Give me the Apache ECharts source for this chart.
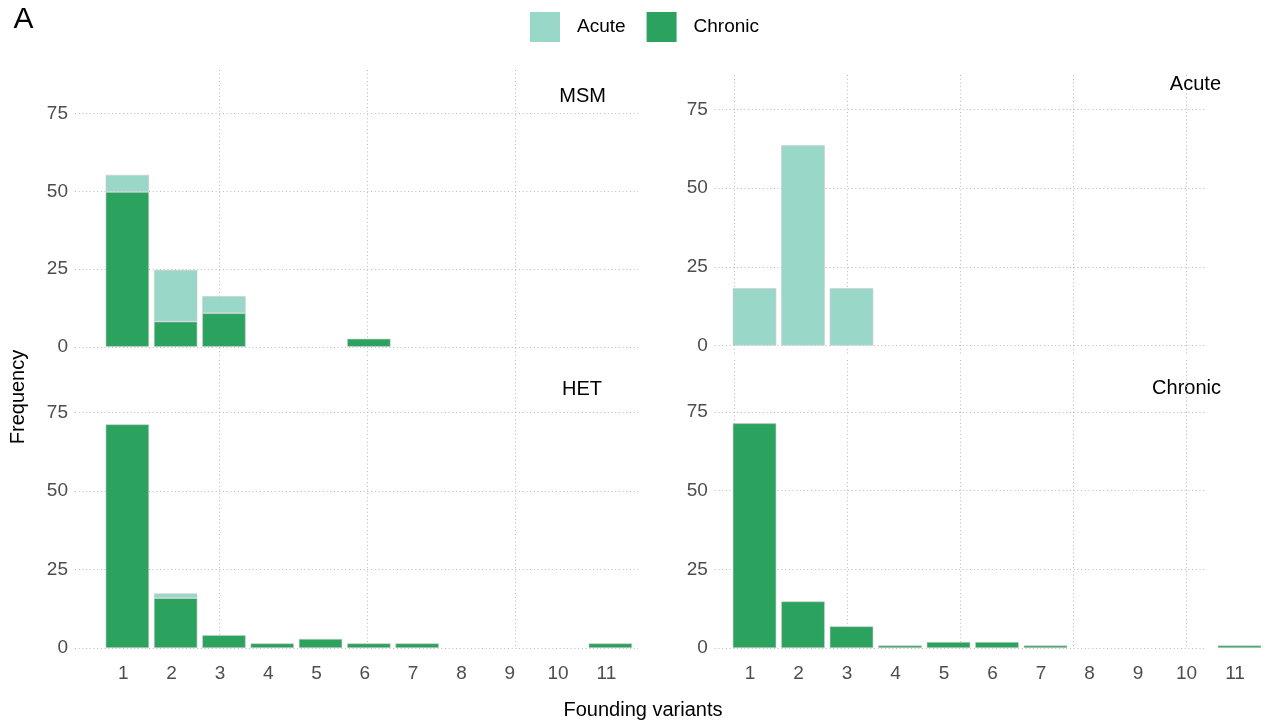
<!DOCTYPE html>
<html>
<head>
<meta charset="utf-8">
<script src="https://cdn.jsdelivr.net/npm/echarts@6/dist/echarts.min.js"></script>
<style>
  html, body { margin: 0; padding: 0; background: #ffffff; }
  #chart { width: 1264px; height: 728px; }
</style>
</head>
<body>
<div id="chart"></div>
<script>
// Number of founding variants (x categories)
const categories = ['1', '2', '3', '4', '5', '6', '7', '8', '9', '10', '11'];
const yTicks = [0, 25, 50, 75];

// Frequency (%) per number of founding variants, per risk group and infection stage
const msmChronic = [49.8, 8.1, 10.8, null, null, 2.6, null, null, null, null, null];
const msmAcute   = [5.5, 16.6, 5.5, null, null, null, null, null, null, null, null];
const hetChronic = [71.3, 15.9, 4.1, 1.5, 2.9, 1.5, 1.5, null, null, null, 1.5];
const hetAcute   = [null, 1.5, null, null, null, null, null, null, null, null, null];
const acuteAll   = [18.2, 63.6, 18.2, null, null, null, null, null, null, null, null];
const chronicAll = [71.4, 14.8, 6.9, 0.8, 1.9, 1.9, 0.8, null, null, null, 0.8];

// Vertical grid line positions (in x units) for the left and right columns
const leftBreaks  = [3, 6.07, 9.14];
const rightBreaks = [0.67, 3, 5.33, 7.67, 10];

const FONT = '"Liberation Sans", Arial, Helvetica, sans-serif';
const ACUTE = '#99d8c9';
const CHRONIC = '#2ca25f';
const gridLine = { color: '#b8b8b8', width: 1, type: [1, 2.7] };

const panels = [
  { title: 'MSM', titleX: 606, titleY: 96,
    top: 70, height: 288, yRange: [-3.6, 89.0],
    bg: { left: 75, width: 563 }, xRange: [0, 11.68], breaks: leftBreaks,
    bar: { left: 103.2, width: 531.3 }, labelShift: 8, showX: false,
    chronic: msmChronic, acute: msmAcute },
  { title: 'Acute', titleX: 1221, titleY: 84.5,
    top: 75, height: 281, yRange: [-3.3, 85.9],
    bg: { left: 714.8, width: 490.6 }, xRange: [0.275, 10.39], breaks: rightBreaks,
    bar: { left: 730.25, width: 533.5 }, labelShift: 9, showX: false,
    chronic: null, acute: acuteAll },
  { title: 'HET', titleX: 602, titleY: 389,
    top: 360, height: 288, yRange: [0, 91.8],
    bg: { left: 75, width: 563 }, xRange: [0, 11.68], breaks: leftBreaks,
    bar: { left: 103.2, width: 531.3 }, labelShift: 8, showX: true,
    chronic: hetChronic, acute: hetAcute },
  { title: 'Chronic', titleX: 1221, titleY: 388.5,
    top: 360, height: 288, yRange: [0, 91.5],
    bg: { left: 714.8, width: 490.6 }, xRange: [0.275, 10.39], breaks: rightBreaks,
    bar: { left: 730.25, width: 533.5 }, labelShift: 9, showX: true,
    chronic: chronicAll, acute: null }
];

const grids = [], xAxes = [], yAxes = [], series = [], graphics = [];

panels.forEach((p, i) => {
  const g = grids.length;
  // background grid: gridlines and y labels
  grids.push({ left: p.bg.left, top: p.top, width: p.bg.width, height: p.height });
  // bar grid: categorical x positions
  grids.push({ left: p.bar.left, top: p.top, width: p.bar.width, height: p.height });

  xAxes.push({
    type: 'value', gridIndex: g, min: p.xRange[0], max: p.xRange[1],
    axisLine: { show: false },
    axisTick: { show: false, customValues: p.breaks },
    axisLabel: { show: false, customValues: p.breaks },
    splitLine: { show: true, lineStyle: gridLine }
  });
  xAxes.push({
    type: 'category', gridIndex: g + 1, data: categories, boundaryGap: true,
    axisLine: { show: false }, axisTick: { show: false },
    splitLine: { show: false },
    axisLabel: { show: p.showX, color: '#4d4d4d', fontSize: 19, fontFamily: FONT, margin: 16,
                 padding: [0, p.labelShift, 0, 0] }
  });
  yAxes.push({
    type: 'value', gridIndex: g, min: p.yRange[0], max: p.yRange[1],
    axisLine: { show: false },
    axisTick: { show: false, customValues: yTicks },
    axisLabel: { customValues: yTicks, color: '#4d4d4d', fontSize: 19, fontFamily: FONT, margin: 7 },
    splitLine: { show: true, lineStyle: gridLine }
  });
  yAxes.push({
    type: 'value', gridIndex: g + 1, min: p.yRange[0], max: p.yRange[1], show: false,
    splitLine: { show: false }
  });

  const base = {
    type: 'bar', xAxisIndex: g + 1, yAxisIndex: g + 1, stack: 'panel' + i,
    barCategoryGap: '10%', silent: true
  };
  if (p.chronic) {
    series.push(Object.assign({}, base, {
      name: 'Chronic', data: p.chronic,
      itemStyle: { color: CHRONIC, borderColor: 'rgba(205,205,205,0.9)', borderWidth: 0.7 }
    }));
  }
  if (p.acute) {
    series.push(Object.assign({}, base, {
      name: 'Acute', data: p.acute,
      itemStyle: { color: ACUTE, borderColor: 'rgba(205,205,205,0.9)', borderWidth: 0.7 }
    }));
  }

  graphics.push({
    type: 'text', x: p.titleX, y: p.titleY, silent: true,
    style: { text: p.title, fill: '#000000', fontSize: 20, fontFamily: FONT,
             align: 'right', verticalAlign: 'middle' }
  });
});

graphics.push(
  { type: 'text', x: 23.5, y: 20, silent: true,
    style: { text: 'A', fill: '#000000', fontSize: 30, fontFamily: FONT,
             align: 'center', verticalAlign: 'middle' } },
  { type: 'text', x: 18.5, y: 397, rotation: Math.PI / 2, silent: true,
    style: { text: 'Frequency', fill: '#000000', fontSize: 20, fontFamily: FONT,
             align: 'center', verticalAlign: 'middle' } },
  { type: 'text', x: 643, y: 710, silent: true,
    style: { text: 'Founding variants', fill: '#000000', fontSize: 20, fontFamily: FONT,
             align: 'center', verticalAlign: 'middle' } }
);

const chart = echarts.init(document.getElementById('chart'), null, { renderer: 'canvas' });
chart.setOption({
  animation: false,
  backgroundColor: '#ffffff',
  textStyle: { fontFamily: FONT },
  legend: {
    left: 530, top: 12, padding: 0,
    itemWidth: 30, itemHeight: 30, itemGap: 21,
    icon: 'rect', selectedMode: false,
    itemStyle: { borderWidth: 0 },
    textStyle: { fontSize: 19, color: '#000000', fontFamily: FONT, padding: [0, 0, 0, 12] },
    data: [
      { name: 'Acute', itemStyle: { color: ACUTE } },
      { name: 'Chronic', itemStyle: { color: CHRONIC } }
    ]
  },
  grid: grids,
  xAxis: xAxes,
  yAxis: yAxes,
  series: series,
  graphic: graphics
});
</script>
</body>
</html>
